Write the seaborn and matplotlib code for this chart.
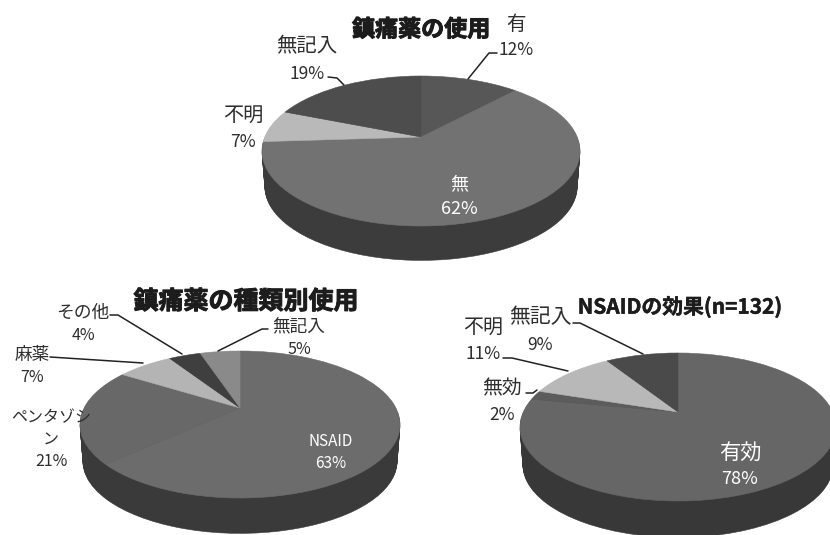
import numpy as np
import matplotlib
matplotlib.use("Agg")
import matplotlib.pyplot as plt
import matplotlib.patheffects as pe
from matplotlib.patches import PathPatch
from matplotlib.path import Path
import seaborn as sns

# --- data ---
use_labels = ["有", "無", "不明", "無記入"]
use_values = [12, 62, 7, 19]
use_colors = ["#575757", "#727272", "#b9b9b9", "#4d4d4d"]
use_side = "#3c3c3c"

kind_labels = ["NSAID", "ペンタゾシン", "麻薬", "その他", "無記入"]
kind_values = [63, 21, 7, 4, 5]
kind_colors = ["#6c6c6c", "#686868", "#b4b4b4", "#3f3f3f", "#8a8a8a"]
kind_side = "#3a3a3a"

effect_labels = ["有効", "無効", "不明", "無記入"]
effect_values = [78, 2, 11, 9]
effect_colors = ["#666666", "#5c5c5c", "#b8b8b8", "#4a4a4a"]
effect_side = "#383838"

sns.set_theme(style="white")
plt.rcParams['font.family'] = ['Noto Sans CJK JP', 'DejaVu Sans']

fig = plt.figure(figsize=(8.3, 5.35), dpi=100, facecolor="white")
ax = fig.add_axes([0, 0, 1, 1])


def project(verts, geom, shift=0.0, scale=1.0):
    cx, cy, W, top, bottom = geom
    k = (bottom - top) / (bottom + top)
    b = top * (1 + k)
    a = W * np.sqrt(1 - k ** 2)
    x, y = verts[:, 0], verts[:, 1]
    w = 1 + k * y
    X = a * x / w * scale
    Y = b * y / w * scale
    return np.column_stack([cx + X, cy - Y + shift])


def draw_pie(values, colors, side, geom, depth):
    # side wall: stacked copies of the pie, from the bottom up
    layers = list(range(depth, 0, -1))
    for d in layers + [0]:
        wedges, _ = ax.pie(values, startangle=90, counterclock=False)
        for wedge, col in zip(wedges, colors):
            path = wedge.get_patch_transform().transform_path(wedge.get_path())
            wedge.remove()
            scale = 1 - 0.018 * d / depth
            new = Path(project(path.vertices, geom, d, scale), path.codes)
            face = col if d == 0 else side
            ax.add_patch(PathPatch(new, facecolor=face, edgecolor=face, lw=0.4, zorder=2))


draw_pie(use_values, use_colors, use_side, (421, 137, 159, 61, 89), 36)
draw_pie(kind_values, kind_colors, kind_side, (240, 408, 160, 57, 90), 37)
draw_pie(effect_values, effect_colors, effect_side, (678, 412, 158, 59, 89), 38)

ax.set_aspect("auto")
ax.set_xlim(0, 830)
ax.set_ylim(535, 0)
ax.axis("off")

DARK = "#2e2e2e"


def label(x, ys, lines, sizes, color=DARK):
    for y, line, size in zip(ys, lines, sizes):
        ax.text(x, y + 2, line, ha="center", va="center", fontsize=size, color=color, zorder=5)


def leader(xs, ys):
    ax.plot(xs, ys, color="#222222", lw=1.1, zorder=4, solid_capstyle="round")


def title(x, y, text, size, stroke):
    t = ax.text(x, y + 2, text, ha="center", va="center", fontsize=size, fontweight="bold",
                color="#1c1c1c", zorder=6)
    t.set_path_effects([pe.withStroke(linewidth=stroke, foreground="#1c1c1c")])


# titles
title(421, 28, "鎮痛薬の使用", 16.6, 0.7)
title(246, 300, "鎮痛薬の種類別使用", 18, 0.7)
title(680, 305, "NSAIDの効果(n=132)", 15, 0.3)

# top pie labels
label(516, [23, 48], [use_labels[0], f"{use_values[0]}%"], [14, 12.5])
label(459, [182, 207], [use_labels[1], f"{use_values[1]}%"], [13, 13], "white")
label(243, [113, 140], [use_labels[2], f"{use_values[2]}%"], [14.5, 12.5])
label(307, [45, 72], [use_labels[3], f"{use_values[3]}%"], [14.7, 12.5])
leader([468, 489, 497], [79, 53, 53])
leader([328, 337, 344], [77, 78, 85])

# lower-left pie labels
label(331, [440, 461], [kind_labels[0], f"{kind_values[0]}%"], [11, 11], "white")
label(51, [416, 438, 460], ["ペンタゾシ", "ン", f"{kind_values[1]}%"], [11.5, 11.5, 11.5])
label(32, [353, 375], [kind_labels[2], f"{kind_values[2]}%"], [12.7, 11.5])
label(83, [311, 333], [kind_labels[3], f"{kind_values[3]}%"], [12.8, 11.5])
label(299, [324, 347], [kind_labels[4], f"{kind_values[4]}%"], [12.7, 11.5])
leader([110, 118, 182], [315, 315, 354])
leader([50, 143], [357, 363])
leader([268, 262, 218], [329, 329, 351])

# lower-right pie labels
label(740, [452, 477], [effect_labels[0], f"{effect_values[0]}%"], [15.3, 13], "white")
label(502, [387, 413], [effect_labels[1], f"{effect_values[1]}%"], [14.3, 12.5])
label(483, [325, 352], [effect_labels[2], f"{effect_values[2]}%"], [14.4, 12.5])
label(540, [315, 343], [effect_labels[3], f"{effect_values[3]}%"], [15, 12.5])
leader([573, 580, 643], [323, 323, 354])
leader([503, 512, 568], [358, 358, 371])
leader([526, 533, 537], [393, 393, 390])

fig.savefig("out.png", dpi=100, facecolor="white")
